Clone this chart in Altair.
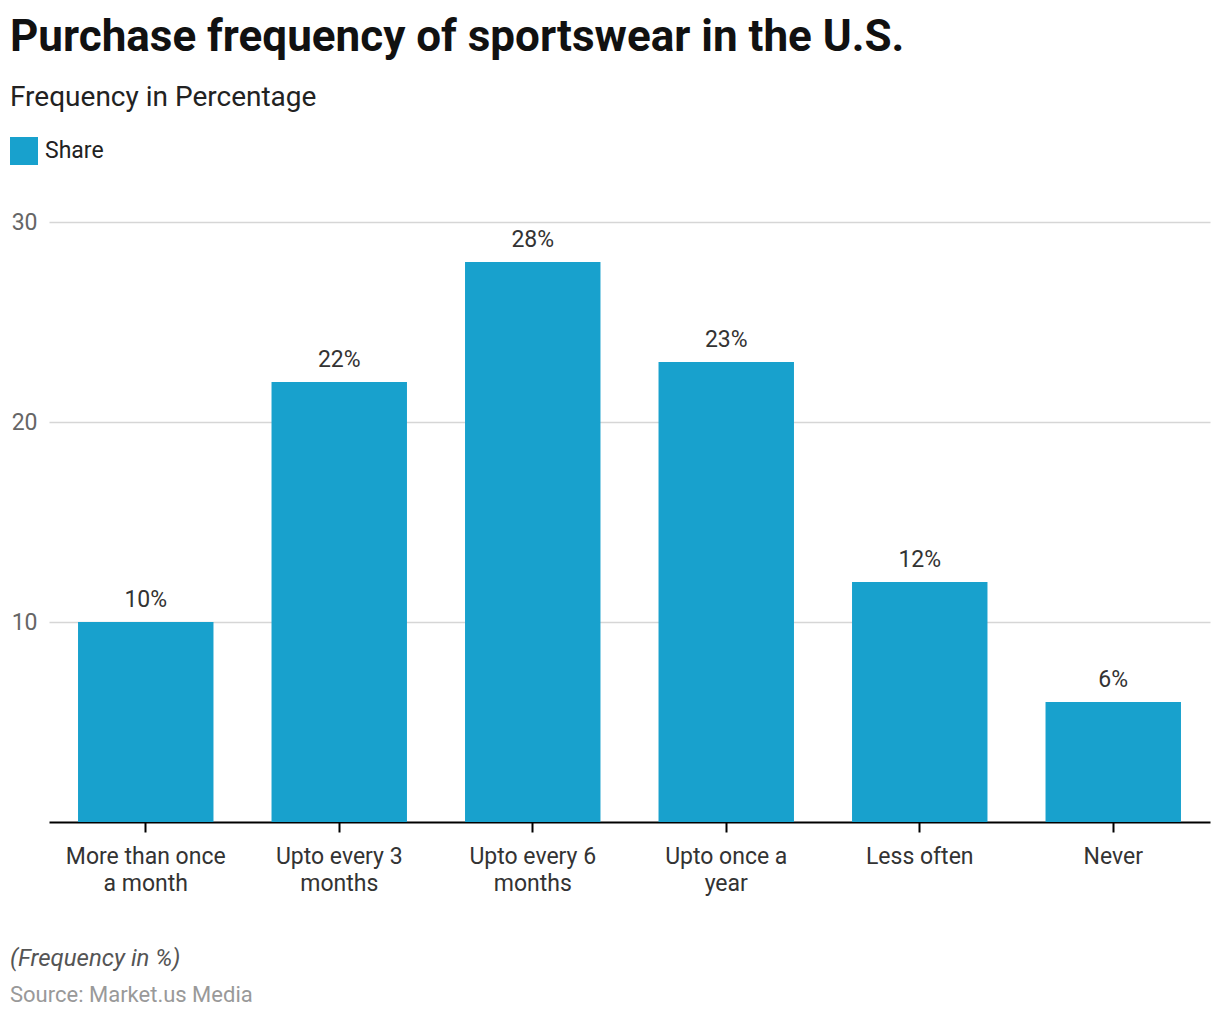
import altair as alt
import pandas as pd

categories = ["More than once a month", "Upto every 3 months", "Upto every 6 months",
              "Upto once a year", "Less often", "Never"]
label_lines = [["More than once", "a month"], ["Upto every 3", "months"], ["Upto every 6", "months"],
               ["Upto once a", "year"], ["Less often"], ["Never"]]
values = [10, 22, 28, 23, 12, 6]
series_name = "Share"
y_ticks = [10, 20, 30]
footer_lines = ["(Frequency in %)", "Source: Market.us Media"]

df = pd.DataFrame({"category": categories, "value": values, "series": [series_name] * len(values)})

expr = ""
for cat, lines in zip(categories, label_lines):
    arr = "[" + ",".join("'" + l + "'" for l in lines) + "]"
    expr += f"datum.label == '{cat}' ? {arr} : "
expr += "datum.label"

FONT = "Roboto"
BAR = "#18a1cd"

x = alt.X("category:N", sort=categories, title=None,
          scale=alt.Scale(paddingInner=0.3, paddingOuter=0.15),
          axis=alt.Axis(labelAngle=0, labelExpr=expr, labelFontSize=23, labelColor="#333",
                        labelFont=FONT, labelLineHeight=27, labelPadding=13,
                        domainColor="#000", domainWidth=2, tickColor="#000", tickWidth=2,
                        tickSize=10, grid=False))
y = alt.Y("value:Q", title=None, scale=alt.Scale(domain=[0, 30], nice=False),
          axis=alt.Axis(values=y_ticks, ticks=False, domain=False, labelFontSize=23,
                        labelColor="#666", labelFont=FONT, labelPadding=12,
                        gridColor="#d6d6d6", gridWidth=1.5))

bars = alt.Chart(df).mark_bar(color=BAR).encode(
    x=x, y=y,
    color=alt.Color("series:N", scale=alt.Scale(domain=[series_name], range=[BAR]),
                    legend=alt.Legend(title=None, orient="none", legendX=-39, legendY=-85,
                                      symbolType="square", symbolSize=784, symbolStrokeWidth=0,
                                      symbolOpacity=1, labelFontSize=23, labelFont=FONT,
                                      labelColor="#222", labelOffset=7)),
)

labels = alt.Chart(df).transform_calculate(lbl="datum.value + '%'").mark_text(
    dy=-15, baseline="alphabetic", fontSize=23, font=FONT, color="#333"
).encode(x=alt.X("category:N", sort=categories), y="value:Q", text="lbl:N")

fdf = pd.DataFrame({"t": footer_lines, "k": [0, 1]})
foot1 = alt.Chart(fdf).transform_filter("datum.k == 0").mark_text(
    align="left", baseline="alphabetic", fontSize=24, font=FONT, fontStyle="italic", color="#555"
).encode(x=alt.value(-39), y=alt.value(744), text="t:N")
foot2 = alt.Chart(fdf).transform_filter("datum.k == 1").mark_text(
    align="left", baseline="alphabetic", fontSize=22, font=FONT, color="#999"
).encode(x=alt.value(-39), y=alt.value(780), text="t:N")

chart = alt.layer(bars, labels, foot1, foot2).properties(
    width=1161, height=600,
    background="white",
    padding={"left": 2, "top": 8, "right": 2, "bottom": 2},
    title=alt.TitleParams(
        text="Purchase frequency of sportswear in the U.S.",
        subtitle="Frequency in Percentage",
        anchor="start", frame="bounds", font=FONT, fontSize=44, fontWeight="bold",
        color="#111", subtitleFont=FONT, subtitleFontSize=28, subtitleColor="#222",
        subtitlePadding=24, offset=25,
    ),
).configure_view(stroke="transparent", strokeWidth=0)

chart.save("out.html", embed_options={"renderer": "svg", "actions": False})
